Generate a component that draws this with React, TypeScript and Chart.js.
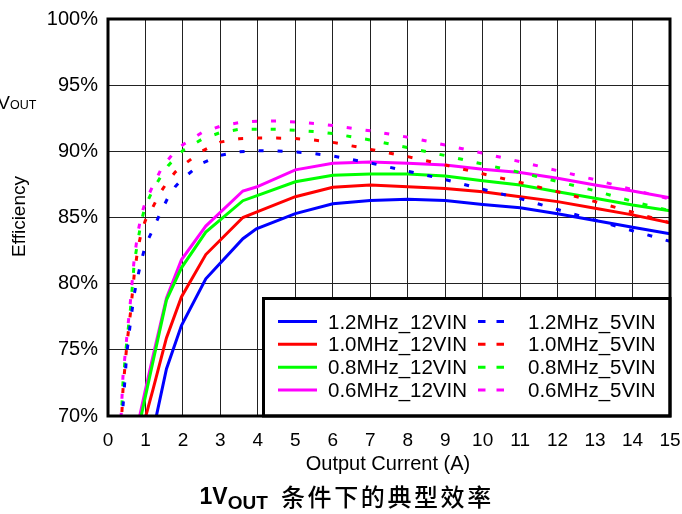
import React, { useEffect, useRef } from 'react';
import { Chart, registerables } from 'chart.js';

Chart.register(...registerables);

// ---------- data ----------
const xTickValues = [0, 1, 2, 3, 4, 5, 6, 7, 8, 9, 10, 11, 12, 13, 14, 15];
const yTickValues = [70, 75, 80, 85, 90, 95, 100];

// Output current (A) for the 12VIN (solid) curves
const current12V = [0.8, 1.0, 1.2, 1.56, 1.96, 2.61, 3.6, 3.96, 5, 6, 7, 8, 9, 10, 11, 12, 13, 14, 15];
const eff_1p2MHz_12V = [63.0, 66.0, 68.8, 73.56, 76.84, 80.37, 83.4, 84.15, 85.29, 86.04, 86.29, 86.37, 86.29, 85.99, 85.74, 85.29, 84.78, 84.27, 83.77];
const eff_1p0MHz_12V = [67.7, 69.9, 72.0, 75.9, 79.0, 82.2, 85.0, 85.4, 86.57, 87.28, 87.45, 87.33, 87.2, 86.95, 86.57, 86.2, 85.7, 85.2, 84.6];
const eff_0p8MHz_12V = [68.9, 71.5, 74.1, 78.76, 81.2, 83.9, 86.27, 86.64, 87.7, 88.2, 88.28, 88.28, 88.13, 87.78, 87.45, 86.95, 86.45, 85.94, 85.5];
const eff_0p6MHz_12V = [69.4, 72.0, 74.5, 78.9, 81.8, 84.35, 87.0, 87.3, 88.6, 89.1, 89.2, 89.1, 88.97, 88.64, 88.4, 87.96, 87.45, 87.0, 86.5];

// Output current (A) for the 5VIN (dashed) curves
const current5V = [0.3, 0.4, 0.5, 0.6, 0.7, 0.8, 0.9, 1.0, 1.2, 1.4, 1.6, 1.8, 2.0, 2.5, 3, 3.5, 4, 4.5, 5, 5.5, 6, 7, 8, 9, 10, 11, 12, 13, 14, 15];
const eff_1p2MHz_5V = [65.0, 70.7, 74.7, 77.1, 79.2, 80.6, 81.85, 82.9, 84.1, 85.35, 86.5, 87.35, 87.95, 89.1, 89.7, 89.97, 90.05, 90.03, 89.95, 89.83, 89.65, 89.12, 88.5, 87.87, 87.13, 86.43, 85.6, 84.8, 84.0, 83.2];
const eff_1p0MHz_5V = [66.0, 72.0, 75.3, 77.8, 80.7, 82.7, 84.0, 84.8, 85.8, 86.9, 87.75, 88.45, 88.95, 90.0, 90.7, 90.95, 91.0, 91.0, 90.97, 90.85, 90.68, 90.15, 89.6, 88.97, 88.3, 87.65, 86.95, 86.2, 85.4, 84.6];
const eff_0p8MHz_5V = [66.5, 72.5, 75.6, 78.1, 81.55, 83.3, 84.85, 85.9, 87.1, 88.05, 88.9, 89.5, 90.07, 90.9, 91.42, 91.66, 91.67, 91.66, 91.59, 91.5, 91.34, 90.86, 90.28, 89.68, 89.04, 88.4, 87.72, 87.02, 86.22, 85.5];
const eff_0p6MHz_5V = [67.0, 73.0, 75.9, 78.7, 81.9, 83.9, 85.3, 86.2, 87.4, 88.55, 89.35, 90.05, 90.5, 91.4, 91.9, 92.17, 92.28, 92.29, 92.22, 92.1, 91.95, 91.55, 91.07, 90.48, 89.86, 89.22, 88.54, 87.85, 87.1, 86.4];

const names12V = ['1.2MHz_12VIN', '1.0MHz_12VIN', '0.8MHz_12VIN', '0.6MHz_12VIN'];
const names5V = ['1.2MHz_5VIN', '1.0MHz_5VIN', '0.8MHz_5VIN', '0.6MHz_5VIN'];
const seriesColors = ['#0000FF', '#FF0000', '#00FF00', '#FF00FF'];

const xTitle = 'Output Current (A)';
const yTitle = 'Efficiency';
const captionLead = '1V';
const captionSub = 'OUT';
const captionText = '条件下的典型效率';

// ---------- layout ----------
const W = 682;
const H = 514;
const AREA = { left: 108, top: 19, right: 670, bottom: 416 };
const FONT = '"Liberation Sans", Arial, Helvetica, sans-serif';
const CJK = '"Noto Sans CJK SC", "Noto Sans CJK JP", sans-serif';

const toPoints = (xs: number[], ys: number[]) => xs.map((x, i) => ({ x, y: ys[i] }));

const overlayPlugin = {
  id: 'overlay',
  afterDraw(chart: any) {
    const { ctx, chartArea: a } = chart;
    ctx.save();

    // legend box
    const lx = 263.5;
    const ly = 298.5;
    ctx.fillStyle = '#ffffff';
    ctx.fillRect(lx, ly, a.right - lx, a.bottom - ly);
    ctx.lineWidth = 3;
    ctx.strokeStyle = '#000000';
    ctx.strokeRect(lx, ly, a.right - lx, a.bottom - ly);

    const rowBase = [328.5, 351.2, 374.2, 396.9];
    ctx.font = `20.5px ${FONT}`;
    ctx.textBaseline = 'alphabetic';
    ctx.textAlign = 'left';
    for (let i = 0; i < 4; i++) {
      const yb = rowBase[i];
      const ym = yb - 7;
      ctx.strokeStyle = seriesColors[i];
      ctx.lineWidth = 3;
      ctx.setLineDash([]);
      ctx.beginPath();
      ctx.moveTo(278, ym);
      ctx.lineTo(317, ym);
      ctx.stroke();
      ctx.fillStyle = '#000';
      ctx.fillText(names12V[i], 328, yb);

      ctx.beginPath();
      ctx.moveTo(478, ym);
      ctx.lineTo(485.5, ym);
      ctx.moveTo(496.5, ym);
      ctx.lineTo(504, ym);
      ctx.stroke();
      ctx.fillText(names5V[i], 528, yb);
    }

    // plot frame
    ctx.strokeStyle = '#000';
    ctx.lineWidth = 3;
    ctx.strokeRect(a.left, a.top, a.right - a.left, a.bottom - a.top);

    // x title
    ctx.fillStyle = '#000';
    ctx.font = `20px ${FONT}`;
    ctx.textAlign = 'center';
    ctx.textBaseline = 'middle';
    ctx.fillText(xTitle, 388, 464);

    // y title
    ctx.save();
    ctx.translate(20, 216.5);
    ctx.rotate(-Math.PI / 2);
    ctx.font = `19px ${FONT}`;
    ctx.textAlign = 'center';
    ctx.textBaseline = 'middle';
    ctx.fillText(yTitle, 0, 0);
    ctx.restore();

    // cut-off V_OUT label at top left
    ctx.textAlign = 'left';
    ctx.textBaseline = 'alphabetic';
    ctx.font = `19px ${FONT}`;
    ctx.fillText('V', -2.7, 108.5);
    ctx.font = `12.5px ${FONT}`;
    ctx.fillText('OUT', 10, 108.5);

    // caption
    ctx.font = `bold 23px ${FONT}`;
    ctx.fillText(captionLead, 199.5, 504);
    const leadW = ctx.measureText(captionLead).width;
    ctx.font = `bold 19px ${FONT}`;
    ctx.fillText(captionSub, 199.5 + leadW, 509);
    ctx.font = `500 24px ${CJK}`;
    const chars = Array.from(captionText);
    const pitch = 26.6;
    chars.forEach((c, i) => {
      ctx.fillText(c, 281 + i * pitch, 505.5);
    });

    ctx.restore();
  },
};

export default function App() {
  const canvasRef = useRef<HTMLCanvasElement | null>(null);

  useEffect(() => {
    const canvas = canvasRef.current;
    if (!canvas) return;

    const dashed = [eff_1p2MHz_5V, eff_1p0MHz_5V, eff_0p8MHz_5V, eff_0p6MHz_5V].map((ys, i) => ({
      label: names5V[i],
      data: toPoints(current5V, ys),
      borderColor: seriesColors[i],
      backgroundColor: seriesColors[i],
      borderWidth: 3,
      borderDash: [5, 14],
      pointRadius: 0,
      tension: 0,
      fill: false,
    }));
    const solid = [eff_1p2MHz_12V, eff_1p0MHz_12V, eff_0p8MHz_12V, eff_0p6MHz_12V].map((ys, i) => ({
      label: names12V[i],
      data: toPoints(current12V, ys),
      borderColor: seriesColors[i],
      backgroundColor: seriesColors[i],
      borderWidth: 3,
      pointRadius: 0,
      tension: 0,
      fill: false,
    }));

    const chart = new Chart(canvas, {
      type: 'line',
      data: { datasets: [...dashed, ...solid] },
      options: {
        animation: false,
        responsive: false,
        devicePixelRatio: 1,
        layout: { padding: { left: 0, top: AREA.top, right: W - AREA.right, bottom: 0 } },
        plugins: { legend: { display: false }, tooltip: { enabled: false } },
        scales: {
          x: {
            type: 'linear',
            min: 0,
            max: 15,
            afterFit: (s: any) => {
              s.height = H - AREA.bottom;
              s.paddingLeft = 0;
              s.paddingRight = 0;
            },
            afterBuildTicks: (s: any) => {
              s.ticks = xTickValues.map((v) => ({ value: v }));
            },
            ticks: {
              color: '#000',
              font: { family: FONT, size: 19 },
              padding: 13,
              maxRotation: 0,
              autoSkip: false,
            },
            grid: { color: '#222', lineWidth: 1, drawTicks: false },
            border: { display: false },
          },
          y: {
            type: 'linear',
            min: 70,
            max: 100,
            afterFit: (s: any) => {
              s.width = AREA.left;
              s.paddingTop = 0;
              s.paddingBottom = 0;
            },
            afterBuildTicks: (s: any) => {
              s.ticks = yTickValues.map((v) => ({ value: v }));
            },
            ticks: {
              color: '#000',
              font: { family: FONT, size: 20 },
              padding: 10,
              callback: (v: any) => `${v}%`,
            },
            grid: { color: '#222', lineWidth: 1, drawTicks: false },
            border: { display: false },
          },
        },
      },
      plugins: [overlayPlugin],
    });

    return () => chart.destroy();
  }, []);

  return (
    <div style={{ position: 'fixed', left: 0, top: 0, width: W, height: H, background: '#fff' }}>
      <canvas ref={canvasRef} width={W} height={H} style={{ display: 'block', width: W, height: H }} />
    </div>
  );
}
